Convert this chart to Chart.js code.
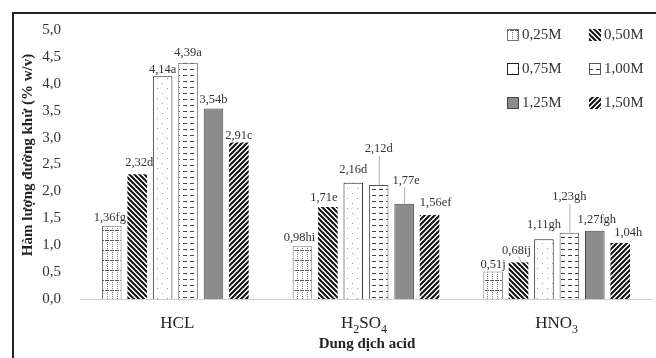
<!DOCTYPE html>
<html>
<head>
<meta charset="utf-8">
<script src="https://cdn.jsdelivr.net/npm/chart.js@4.4.1/dist/chart.umd.min.js"></script>
<style>
  html, body { margin: 0; padding: 0; background: #fff; }
  #wrap { width: 656px; height: 358px; position: relative; }
</style>
</head>
<body>
<div id="wrap"><canvas id="c" width="656" height="358"></canvas></div>
<script>
// Acid solutions on the x axis
const acids = ['HCL', 'H2SO4', 'HNO3'];
// Acid concentrations (one series each)
const concentrations = ['0,25M', '0,50M', '0,75M', '1,00M', '1,25M', '1,50M'];

// Reducing sugar content (% w/v) per acid, for each concentration
const sugar025 = [1.36, 0.98, 0.51];
const sugar050 = [2.32, 1.71, 0.68];
const sugar075 = [4.14, 2.16, 1.11];
const sugar100 = [4.39, 2.12, 1.23];
const sugar125 = [3.54, 1.77, 1.27];
const sugar150 = [2.91, 1.56, 1.04];

// Significance letters shown after each value
const letters025 = ['fg', 'hi', 'j'];
const letters050 = ['d', 'e', 'ij'];
const letters075 = ['a', 'd', 'gh'];
const letters100 = ['a', 'd', 'gh'];
const letters125 = ['b', 'e', 'fgh'];
const letters150 = ['c', 'ef', 'h'];

// Y axis range
const yMin = 0, yMax = 5, yStep = 0.5;

// Label nudges (px) for crowded value labels: [dx, dy] per acid
const labelShift = [
  [[-2, 1], [-3, 0], [0, 2]],
  [[2, -2], [-4, 0], [-2, -3]],
  [[0, 2], [0, -4], [0, -6]],
  [[0, -1], [0, -27], [0, -27]],
  [[0, 0], [2, -14], [2, -2]],
  [[0, 2], [6, -3], [8, -1]]
];
const leaderLines = [
  [false, false, false],
  [false, false, true],
  [false, false, false],
  [false, true, true],
  [false, true, false],
  [false, false, false]
];
// Small horizontal nudges for the category names
const categoryNudge = [2, -2, 0];

const SERIF = "'Liberation Serif', 'Times New Roman', serif";

function makePattern(w, h, draw) {
  const c = document.createElement('canvas');
  c.width = w; c.height = h;
  const g = c.getContext('2d');
  g.fillStyle = '#fff';
  g.fillRect(0, 0, w, h);
  draw(g, w, h);
  return c.getContext('2d').createPattern(c, 'repeat');
}

const patGrid = makePattern(5, 10, (g) => {
  g.fillStyle = '#7a7a7a';
  for (let y = 0; y < 10; y += 2) g.fillRect(2, y, 1, 1);
  g.fillStyle = '#555';
  g.fillRect(0, 0, 4, 1);
});
const patBack = makePattern(5, 5, (g) => {
  g.strokeStyle = '#111';
  g.lineWidth = 2;
  g.beginPath();
  for (let k = -5; k <= 5; k += 5) { g.moveTo(k - 1, -1); g.lineTo(k + 6, 6); }
  g.stroke();
});
const patDots = makePattern(10, 10, (g) => {
  g.fillStyle = '#9a9a9a';
  g.fillRect(2, 3, 1, 1);
  g.fillRect(7, 8, 1, 1);
});
const patDash = makePattern(7, 6, (g) => {
  g.fillStyle = '#444';
  g.fillRect(1, 3, 4, 1);
});
const patFwd = makePattern(5, 5, (g) => {
  g.strokeStyle = '#111';
  g.lineWidth = 2;
  g.beginPath();
  for (let k = -5; k <= 5; k += 5) { g.moveTo(k - 1, 6); g.lineTo(k + 6, -1); }
  g.stroke();
});

const seriesValues = [sugar025, sugar050, sugar075, sugar100, sugar125, sugar150];
const seriesLetters = [letters025, letters050, letters075, letters100, letters125, letters150];
const fills = [patGrid, patBack, patDots, patDash, '#8c8c8c', patFwd];
const borders = ['#777', '#222', '#222', '#555', '#444', '#222'];
const borderWidths = [1, 0, 1, 1, 1, 0];

const datasets = concentrations.map((name, i) => ({
  label: name,
  data: seriesValues[i],
  letters: seriesLetters[i],
  backgroundColor: fills[i],
  borderColor: borders[i],
  borderWidth: borderWidths[i],
  categoryPercentage: 0.8,
  barPercentage: 0.77
}));

const fmt = (v, d) => v.toFixed(d).replace('.', ',');

// Frame lines on the top and left
const framePlugin = {
  id: 'frame',
  afterDraw(chart) {
    const ctx = chart.ctx;
    ctx.save();
    ctx.strokeStyle = '#222';
    ctx.lineWidth = 2;
    ctx.beginPath();
    ctx.moveTo(13, 358);
    ctx.lineTo(13, 13);
    ctx.lineTo(656, 13);
    ctx.stroke();
    ctx.restore();
  }
};

// Value labels above bars
const valueLabels = {
  id: 'valueLabels',
  afterDatasetsDraw(chart) {
    const ctx = chart.ctx;
    ctx.save();
    ctx.font = '12.5px ' + SERIF;
    ctx.fillStyle = '#333';
    ctx.textAlign = 'center';
    ctx.textBaseline = 'middle';
    chart.data.datasets.forEach((ds, i) => {
      const meta = chart.getDatasetMeta(i);
      meta.data.forEach((bar, j) => {
        const [dx, dy] = labelShift[i][j];
        const tx = bar.x + dx;
        const ty = bar.y - 9 + dy;
        if (leaderLines[i][j]) {
          ctx.strokeStyle = '#b0b0b0';
          ctx.lineWidth = 1;
          ctx.beginPath();
          if (dy < -10) {
            ctx.moveTo(bar.x + 0.5, ty + 7);
            ctx.lineTo(bar.x + 0.5, bar.y);
          } else {
            ctx.moveTo(tx + 2, ty + 6);
            ctx.lineTo(bar.x + 3, bar.y);
          }
          ctx.stroke();
        }
        ctx.fillText(fmt(ds.data[j], 2) + ds.letters[j], tx, ty);
      });
    });
    ctx.restore();
  }
};

// Category names with chemical subscripts, axis titles and legend
const decorations = {
  id: 'decorations',
  afterDraw(chart) {
    const ctx = chart.ctx;
    const xs = chart.scales.x;
    ctx.save();
    ctx.fillStyle = '#222';
    ctx.textBaseline = 'middle';
    ctx.textAlign = 'left';
    const big = '17px ' + SERIF, small = '12px ' + SERIF;
    acids.forEach((name, i) => {
      const parts = name.match(/[A-Z]+|\d+/g).map(p => ({ t: p, sub: /\d/.test(p) }));
      let w = 0;
      parts.forEach(p => { ctx.font = p.sub ? small : big; w += ctx.measureText(p.t).width; });
      let x = xs.getPixelForValue(i) - w / 2 + categoryNudge[i];
      const y = 324;
      parts.forEach(p => {
        ctx.font = p.sub ? small : big;
        ctx.fillText(p.t, x, p.sub ? y + 6 : y);
        x += ctx.measureText(p.t).width;
      });
    });

    // x axis title
    ctx.font = 'bold 15px ' + SERIF;
    ctx.textAlign = 'center';
    ctx.fillText('Dung dịch acid', 367, 344);

    // y axis title
    ctx.save();
    ctx.translate(28, 155);
    ctx.rotate(-Math.PI / 2);
    ctx.font = 'bold 15px ' + SERIF;
    ctx.fillText('Hàm lượng đường khử (% w/v)', 0, 0);
    ctx.restore();

    // legend: two columns, three rows
    ctx.font = '15px ' + SERIF;
    ctx.textAlign = 'left';
    chart.data.datasets.forEach((ds, i) => {
      const col = i % 2, row = Math.floor(i / 2);
      const px = col === 0 ? 507 : 589;
      const py = 35 + row * 34;
      ctx.fillStyle = ds.backgroundColor;
      ctx.fillRect(px, py - 6, 12, 12);
      if (ds.borderWidth) {
        ctx.strokeStyle = ds.borderColor;
        ctx.lineWidth = 1;
        ctx.strokeRect(px + 0.5, py - 5.5, 11, 11);
      }
      ctx.fillStyle = '#333';
      ctx.fillText(ds.label, px + 15, py);
    });
    ctx.restore();
  }
};

new Chart(document.getElementById('c'), {
  type: 'bar',
  data: { labels: acids, datasets },
  options: {
    responsive: false,
    animation: false,
    devicePixelRatio: 1,
    layout: { padding: { top: 30, right: 4, bottom: 0, left: 0 } },
    plugins: { legend: { display: false }, tooltip: { enabled: false } },
    scales: {
      x: {
        grid: { display: false, drawTicks: false },
        border: { display: true, color: '#cfcfcf', width: 1 },
        ticks: { display: false },
        afterFit(s) { s.height = 59; }
      },
      y: {
        min: yMin,
        max: yMax,
        grid: { display: false, drawTicks: false },
        border: { display: false },
        ticks: {
          stepSize: yStep,
          padding: 19,
          color: '#333',
          font: { family: SERIF, size: 15 },
          callback: (v) => fmt(v, 1)
        },
        afterFit(s) { s.width = 80; }
      }
    }
  },
  plugins: [framePlugin, valueLabels, decorations]
});
</script>
</body>
</html>
